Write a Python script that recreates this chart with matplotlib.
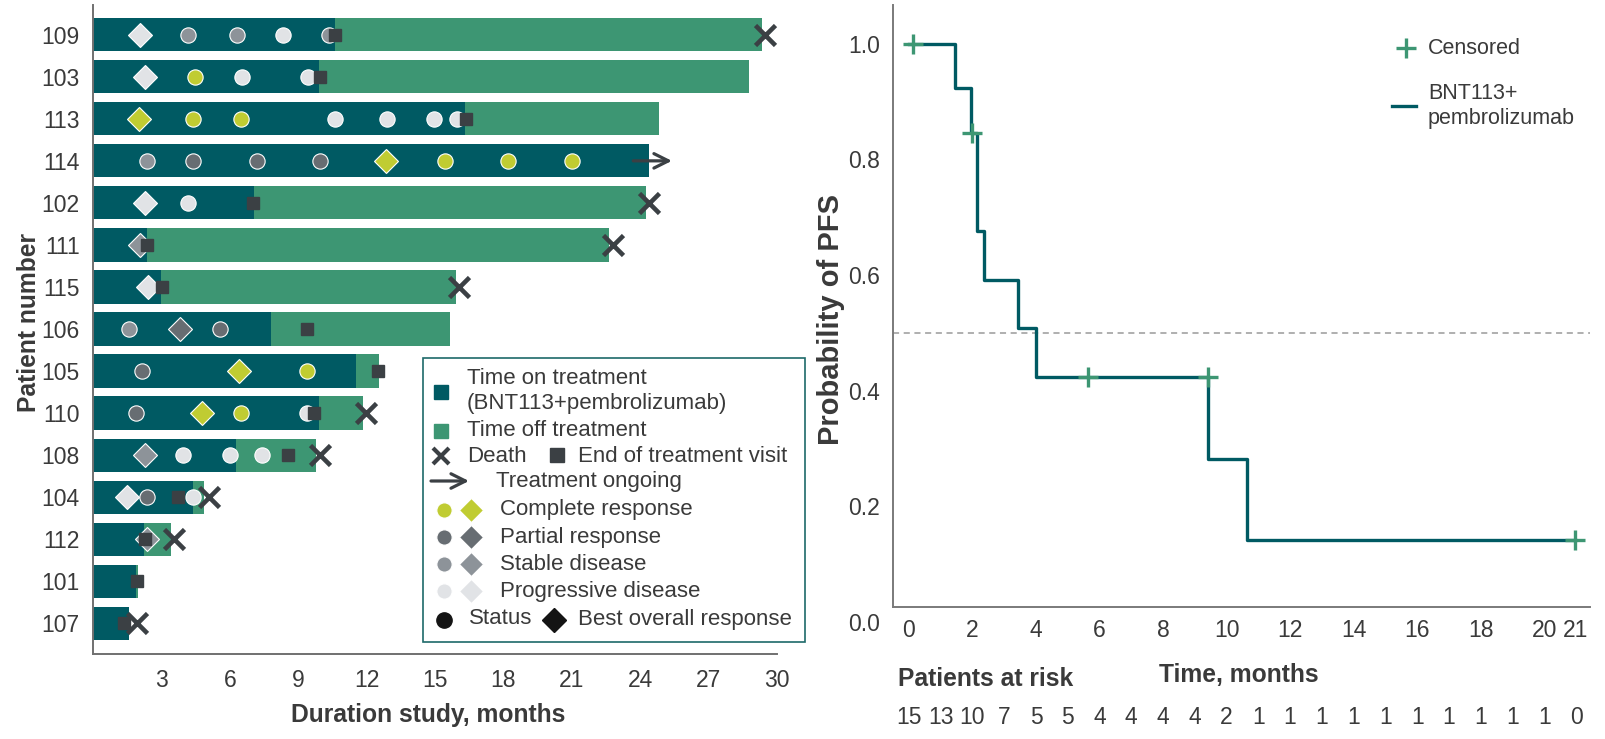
import matplotlib
matplotlib.use("Agg")
import matplotlib.pyplot as plt
from matplotlib.lines import Line2D
from matplotlib.patches import Rectangle, FancyArrowPatch
from matplotlib.transforms import blended_transform_factory

plt.rcParams['font.family'] = ['Liberation Sans', 'DejaVu Sans']
NARROW = ['Liberation Sans Narrow', 'Liberation Sans', 'DejaVu Sans']

# ---- swimmer plot data (top to bottom) ----
patients = ['109', '103', '113', '114', '102', '111', '115', '106',
            '105', '110', '108', '104', '112', '101', '107']
on_treatment = [10.6, 9.9, 16.3, 24.4, 7.05, 2.33, 2.98, 7.8,
                11.52, 9.9, 6.25, 4.37, 2.21, 1.87, 1.56]
total_duration = [29.36, 28.77, 24.84, 24.4, 24.27, 22.64, 15.92, 15.66,
                  12.52, 11.82, 9.78, 4.87, 3.41, 1.94, 1.56]
eot_visit = [10.62, 9.93, 16.36, None, 7.01, 2.35, 3.0, 9.39,
             12.5, 9.68, 8.56, 3.7, 2.25, 1.9, 1.34]
death = [29.5, None, None, None, 24.4, 22.8, 16.03, None,
         None, 11.97, 9.93, 5.05, 3.54, None, 1.9]
ongoing = {'114': (23.7, 25.4)}

status = {
    '109': [(4.17, 'SD'), (6.29, 'SD'), (8.33, 'PD'), (10.33, 'SD')],
    '103': [(4.44, 'CR'), (6.54, 'PD'), (9.41, 'PD')],
    '113': [(4.37, 'CR'), (6.47, 'CR'), (10.62, 'PD'), (12.88, 'PD'),
            (14.95, 'PD'), (15.97, 'PD')],
    '114': [(2.33, 'SD'), (4.39, 'PR'), (7.17, 'PR'), (9.93, 'PR'),
            (15.45, 'CR'), (18.21, 'CR'), (21.0, 'CR')],
    '102': [(4.17, 'PD')],
    '106': [(1.56, 'SD'), (5.56, 'PR')],
    '105': [(2.13, 'PR'), (9.39, 'CR')],
    '110': [(1.86, 'PR'), (6.47, 'CR'), (9.39, 'PD')],
    '108': [(3.94, 'PD'), (6.01, 'PD'), (7.39, 'PD')],
    '104': [(2.33, 'PR'), (4.37, 'PD')],
}
best_response = {
    '109': (2.02, 'PD'), '103': (2.25, 'PD'), '113': (1.98, 'CR'),
    '114': (12.84, 'CR'), '102': (2.25, 'PD'), '111': (2.02, 'SD'),
    '115': (2.41, 'PD'), '106': (3.8, 'PR'), '105': (6.41, 'CR'),
    '110': (4.76, 'CR'), '108': (2.25, 'SD'), '104': (1.47, 'PD'),
    '112': (2.35, 'SD'),
}
response_names = ['Complete response', 'Partial response',
                  'Stable disease', 'Progressive disease']
response_codes = ['CR', 'PR', 'SD', 'PD']

# ---- Kaplan-Meier data ----
km_times = [0, 1.45, 1.97, 2.15, 2.36, 3.44, 3.99, 9.42, 10.63, 20.97]
km_surv = [1.0, 0.923, 0.846, 0.677, 0.592, 0.508, 0.423, 0.282, 0.141, 0.141]
censor_times = [0.14, 1.98, 5.65, 9.42, 20.97]
censor_surv = [1.0, 0.846, 0.423, 0.423, 0.141]
risk_times = list(range(22))
at_risk = [15, 13, 10, 7, 5, 5, 4, 4, 4, 4, 2, 1, 1, 1, 1, 1, 1, 1, 1, 1, 1, 0]
km_xticks = [0, 2, 4, 6, 8, 10, 12, 14, 16, 18, 20, 21]

# ---- styles ----
C_ON = '#005a63'
C_OFF = '#3d9673'
C_DARK = '#3b4044'
C_TEXT = '#3a3a3a'
RESP_COLOR = {'CR': '#c0cc32', 'PR': '#676d72', 'SD': '#8d9399', 'PD': '#e1e3e6'}
LABEL_FS = 17.7

W, H = 1606, 739
fig = plt.figure(figsize=(W / 100, H / 100), dpi=100)


def fxy(x, y):
    return x / W, 1 - y / H


# ================= left: swimmer plot =================
ax = fig.add_axes([93.5 / W, 1 - 654 / H, (776.7 - 93.5) / W, (654 - 4.7) / H])
rows = list(range(len(patients)))
ax.barh(rows, total_duration, height=0.79, color=C_OFF, zorder=1)
ax.barh(rows, on_treatment, height=0.79, color=C_ON, zorder=2)

for i, p in enumerate(patients):
    for t, code in status.get(p, []):
        ax.plot(t, i, 'o', ms=11, color=RESP_COLOR[code], mec='white', mew=0.8, zorder=3)
    if p in best_response:
        t, code = best_response[p]
        ax.plot(t, i, 'D', ms=12.5, color=RESP_COLOR[code], mec='white', mew=0.8, zorder=3)
    if eot_visit[i] is not None:
        ax.plot(eot_visit[i], i, 's', ms=9.3, color=C_DARK, zorder=4)
    if death[i] is not None:
        ax.plot(death[i], i, 'x', ms=14, mew=3.3, color=C_DARK, zorder=5)
    if p in ongoing:
        a, b = ongoing[p]
        ax.annotate('', xy=(b, i), xytext=(a, i),
                    arrowprops=dict(arrowstyle='->', lw=2.3, color=C_DARK,
                                    mutation_scale=26, shrinkA=0, shrinkB=0),
                    zorder=5)

ax.set_xlim(0, 30)
ax.set_ylim(len(patients) - 1 + 0.73, -0.714)
ax.set_yticks(rows)
ax.set_yticklabels(patients)
ax.set_xticks([3, 6, 9, 12, 15, 18, 21, 24, 27, 30])
ax.tick_params(axis='both', length=0, labelsize=16.5, colors=C_TEXT)
ax.tick_params(axis='y', pad=10)
ax.tick_params(axis='x', pad=11)
for s in ['top', 'right']:
    ax.spines[s].set_visible(False)
for s in ['left', 'bottom']:
    ax.spines[s].set_color('#707070')
    ax.spines[s].set_linewidth(1.4)

fig.text(*fxy(29, 322), 'Patient number', rotation=90, ha='center', va='center',
         fontsize=LABEL_FS, fontweight='bold', family=NARROW, color=C_TEXT)
fig.text(*fxy(428, 715), 'Duration study, months', ha='center', va='center',
         fontsize=LABEL_FS, fontweight='bold', family=NARROW, color=C_TEXT)

# legend box built by hand
lx0, ly0, lx1, ly1 = 423, 358, 805, 642
fig.add_artist(Rectangle(fxy(lx0, ly1), (lx1 - lx0) / W, (ly1 - ly0) / H,
                         transform=fig.transFigure, facecolor='white',
                         edgecolor='#1e6a6a', lw=1.2, zorder=6))
LFS = 16


def leg_marker(x, y, **kw):
    fig.add_artist(Line2D([fxy(x, y)[0]], [fxy(x, y)[1]], transform=fig.transFigure,
                          linestyle='none', zorder=7, **kw))


def leg_text(x, y, s):
    fig.text(*fxy(x, y), s, ha='left', va='center', fontsize=LFS, color=C_TEXT, zorder=7)


leg_marker(441, 392, marker='s', ms=10, color=C_ON)
leg_text(467, 391, 'Time on treatment\n(BNT113+pembrolizumab)')
leg_marker(441, 431, marker='s', ms=10, color=C_OFF)
leg_text(467, 431, 'Time off treatment')
leg_marker(441, 456, marker='x', ms=12, mew=3, color=C_DARK)
leg_text(467, 456, 'Death')
leg_marker(557, 455, marker='s', ms=10, color=C_DARK)
leg_text(578, 456, 'End of treatment visit')
fig.add_artist(FancyArrowPatch(fxy(431, 481), fxy(469, 481), transform=fig.transFigure,
                               arrowstyle='->', lw=2.3, color=C_DARK, mutation_scale=26,
                               shrinkA=0, shrinkB=0, zorder=7))
leg_text(496, 481, 'Treatment ongoing')
for k, (code, name) in enumerate(zip(response_codes, response_names)):
    yy = 510 + k * 27
    leg_marker(444, yy, marker='o', ms=11, color=RESP_COLOR[code], mec='white', mew=0.8)
    leg_marker(471, yy, marker='D', ms=12.5, color=RESP_COLOR[code], mec='white', mew=0.8)
    leg_text(500, yy, name)
leg_marker(444, 620, marker='o', ms=11, color='#141414')
leg_text(469, 619, 'Status')
leg_marker(554, 620, marker='D', ms=12.5, color='#141414')
leg_text(578, 619, 'Best overall response')

# ================= right: Kaplan-Meier =================
kx0, kx1 = 892.7, 1590
bx = fig.add_axes([kx0 / W, 1 - 622 / H, (kx1 - kx0) / W, (622 - 5) / H])
bx.set_xlim(-0.51, 21.44)
ytop = 1.067
bx.set_ylim(0, ytop)
bx.axhline(0.5, color='#9a9a9a', lw=1.1, ls=(0, (4, 3)), zorder=1)
bx.step(km_times, km_surv, where='post', color=C_ON, lw=2.4, zorder=2)
bx.plot(censor_times, censor_surv, '+', ms=15, mew=2.4, color=C_OFF, zorder=3)

spine_y = 0.0264
bx.spines['bottom'].set_position(('data', spine_y))
bx.spines['left'].set_bounds(spine_y, ytop)
for s in ['top', 'right']:
    bx.spines[s].set_visible(False)
for s in ['left', 'bottom']:
    bx.spines[s].set_color('#7a7a7a')
    bx.spines[s].set_linewidth(1.4)
bx.set_yticks([0, 0.2, 0.4, 0.6, 0.8, 1.0])
bx.set_yticklabels(['%.1f' % v for v in [0, 0.2, 0.4, 0.6, 0.8, 1.0]])
bx.set_xticks(km_xticks)
bx.set_xticklabels([str(v) for v in km_xticks], family=NARROW)
bx.tick_params(axis='both', length=0, labelsize=16.5, colors=C_TEXT)
bx.tick_params(axis='y', pad=9)
bx.tick_params(axis='x', pad=9)

risk_tr = blended_transform_factory(bx.transData, fig.transFigure)
for t, n in zip(risk_times, at_risk):
    bx.text(t, 1 - 717 / H, str(n), transform=risk_tr, ha='center', va='center',
            fontsize=16.5, family=NARROW, color=C_TEXT)

fig.text(*fxy(831, 319), 'Probability of PFS', rotation=90, ha='center', va='center',
         fontsize=21, fontweight='bold', family=NARROW, color=C_TEXT)
fig.text(*fxy(1239, 675), 'Time, months', ha='center', va='center',
         fontsize=LABEL_FS, fontweight='bold', family=NARROW, color=C_TEXT)
fig.text(*fxy(986, 679), 'Patients at risk', ha='center', va='center',
         fontsize=LABEL_FS, fontweight='bold', family=NARROW, color=C_TEXT)

# right legend
fig.add_artist(Line2D([fxy(1406, 48)[0]], [fxy(1406, 48)[1]], transform=fig.transFigure,
                      marker='+', ms=15, mew=2.4, color=C_OFF, linestyle='none'))
fig.text(*fxy(1428, 48), 'Censored', ha='left', va='center', fontsize=15.5, color=C_TEXT)
fig.add_artist(Line2D([1392 / W, 1416 / W], [1 - 106 / H, 1 - 106 / H],
                      transform=fig.transFigure, color=C_ON, lw=2.4))
fig.text(*fxy(1428, 106), 'BNT113+\npembrolizumab', ha='left', va='center',
         fontsize=15.5, color=C_TEXT, linespacing=1.25)

fig.savefig('out.png', dpi=100)
